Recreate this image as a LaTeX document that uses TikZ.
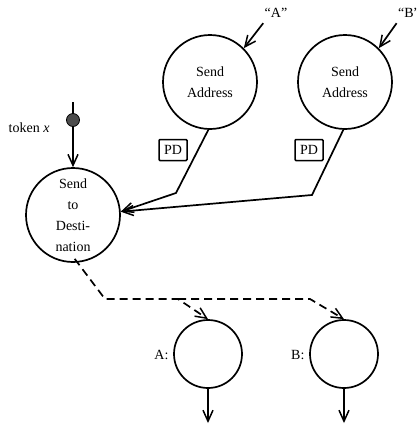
\documentclass[tikz,border=0pt]{standalone}
\usepackage{fontspec}
\setmainfont{Liberation Serif}
\usetikzlibrary{arrows.meta}
\begin{document}
\begin{tikzpicture}[x=1pt,y=-1pt,
  font=\fontsize{14}{21}\selectfont,
  proc/.style={circle,draw,line width=1.7pt,inner sep=0pt,align=center},
  big/.style={proc,minimum size=94pt},
  small/.style={proc,minimum size=68pt},
  pdbox/.style={draw,line width=1.5pt,rounded corners=1pt,minimum width=28pt,minimum height=21pt,inner sep=0pt},
  flow/.style={line width=1.7pt,-{Straight Barb[length=11pt,width=10pt,line width=1.5pt]}},
  ctrl/.style={flow,dash pattern=on 8pt off 5pt}
]
\useasboundingbox (0,0) rectangle (417,424);
\node[big] (sa1) at (210,82) {Send\\Address};
\node[big] (sa2) at (345,82) {Send\\Address};
\node (qa) at (276,13) {“A”};
\node (qb) at (409,13) {“B”};
\node[pdbox] (pd1) at (173,150) {PD};
\node[pdbox] (pd2) at (309,150) {PD};
\node[big] (sd) at (73,215) {Send\\to\\Desti-\\nation};
\node[circle,fill=black!70,draw,line width=0.8pt,minimum size=13pt,inner sep=0pt] (tok) at (73,120) {};
\node[anchor=east] (tokl) at (53,128) {token \textit{x}};
\coordinate (tokin) at (73,102);
\node[small] (ca) at (208,354) {};
\node[small] (cb) at (344,354) {};
\node[anchor=east] (la) at (172,355) {A:};
\node[anchor=east] (lb) at (308,355) {B:};
\coordinate (oa) at (208,423);
\coordinate (ob) at (344,423);
\coordinate (k1) at (176,193);
\coordinate (k2) at (312,195);
\coordinate (d1) at (105,299);
\coordinate (d2) at (178,299);
\coordinate (d3) at (310,299);

\draw[flow] (qa.south west) ++(2,2) coordinate (qas) (qas) -- (sa1.45);
\draw[flow] (qb.south west) ++(2,2) coordinate (qbs) (qbs) -- (sa2.45);
\draw[line width=1.7pt] (tokin) -- (tok.north);
\draw[flow] (tok.south) -- (sd.north);
\draw[flow] (sa1.-92) -- (k1) -- (sd.4);
\draw[flow] (sa2.-92) -- (k2) -- (sd.4);
\draw[ctrl] ([yshift=4pt]sd.-88) -- (d1) -- (d2) -- (ca.north);
\draw[ctrl] (d2) -- (d3) -- (cb.north);
\draw[flow] (ca.south) -- (oa);
\draw[flow] (cb.south) -- (ob);
\end{tikzpicture}
\end{document}
